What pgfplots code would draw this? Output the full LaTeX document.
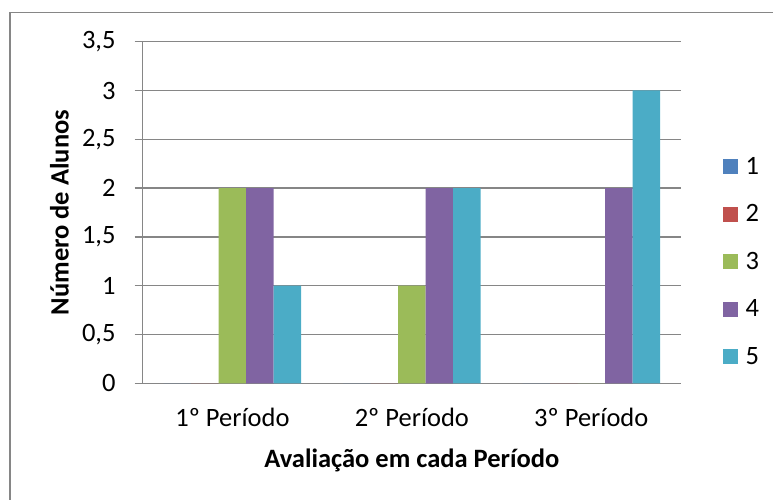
\documentclass[border=0pt]{standalone}
\usepackage{pgfplots}
\pgfplotsset{compat=1.18}
\usepackage{fontspec}
\setmainfont{Carlito}
\definecolor{sA}{HTML}{4F81BD}
\definecolor{sB}{HTML}{C0504D}
\definecolor{sC}{HTML}{9BBB59}
\definecolor{sD}{HTML}{8064A2}
\definecolor{sE}{HTML}{4BACC6}
\definecolor{gridc}{HTML}{868686}
\begin{document}
\begin{tikzpicture}
\useasboundingbox (0,0) rectangle (773bp,500bp);
\draw[gridc, line width=1.3bp] (10bp,-5bp) -- (10bp,487.3bp) -- (780bp,487.3bp);
\begin{axis}[
  at={(142.7bp,116.7bp)}, anchor=south west,
  scale only axis, width=538.3bp, height=341.6bp,
  xmin=-0.5, xmax=2.5, ymin=0, ymax=3.5,
  ytick={0,0.5,...,3.5},
  yticklabels={0,{0,5},1,{1,5},2,{2,5},3,{3,5}},
  xtick={0,1,2},
  xticklabels={1º Período,2º Período,3º Período},
  ymajorgrids,
  grid style={gridc, line width=1.3bp},
  axis x line*=bottom, axis y line*=left,
  axis line style={gridc, line width=1.3bp},
  tick align=outside,
  major tick length=8bp,
  ytick style={gridc, line width=1.3bp},
  xtick style={draw=none},
  ticklabel style={font=\fontsize{26.5bp}{30bp}\selectfont},
  /pgf/number format/assume math mode=true,
  yticklabel style={anchor=east, inner sep=0pt, xshift=-19bp},
  xticklabel style={anchor=base, inner sep=0pt, yshift=-35bp},
  xlabel={\textbf{Avaliação em cada Período}},
  ylabel={\textbf{Número de Alunos}},
  label style={font=\fontsize{26.5bp}{30bp}\selectfont},
  xlabel style={at={(axis description cs:0.5,-0.2459)}, anchor=base, inner sep=0pt},
  ylabel style={at={(axis description cs:-0.1378,0.5)}, anchor=base, inner sep=0pt},
  bar width=0.1533,
  legend style={draw=none, fill=none, inner sep=0pt, outer sep=0pt,
    at={(axis description cs:1.0775,0.6566)}, anchor=north west,
    font=\fontsize{26.5bp}{30bp}\selectfont,
    row sep=32.6bp,
    nodes={inner sep=0pt, text height=15bp, text depth=0bp}},
  legend cell align=left,
  legend image code/.code={\fill[#1] (0bp,-7.5bp) rectangle (15bp,7.5bp);},
  /tikz/every even column/.append style={column sep=0bp},
  /tikz/every odd column/.append style={column sep=8bp},
]
\addplot[ybar, fill=sA, draw=none, bar shift=-0.3066] coordinates {(0,0) (1,0) (2,0)};
\addlegendentry{1}
\addplot[ybar, fill=sB, draw=none, bar shift=-0.1533] coordinates {(0,0) (1,0) (2,0)};
\addlegendentry{2}
\addplot[ybar, fill=sC, draw=none, bar shift=0] coordinates {(0,2) (1,1) (2,0)};
\addlegendentry{3}
\addplot[ybar, fill=sD, draw=none, bar shift=0.1533] coordinates {(0,2) (1,2) (2,2)};
\addlegendentry{4}
\addplot[ybar, fill=sE, draw=none, bar shift=0.3066] coordinates {(0,1) (1,2) (2,3)};
\addlegendentry{5}
\end{axis}
\end{tikzpicture}
\end{document}
